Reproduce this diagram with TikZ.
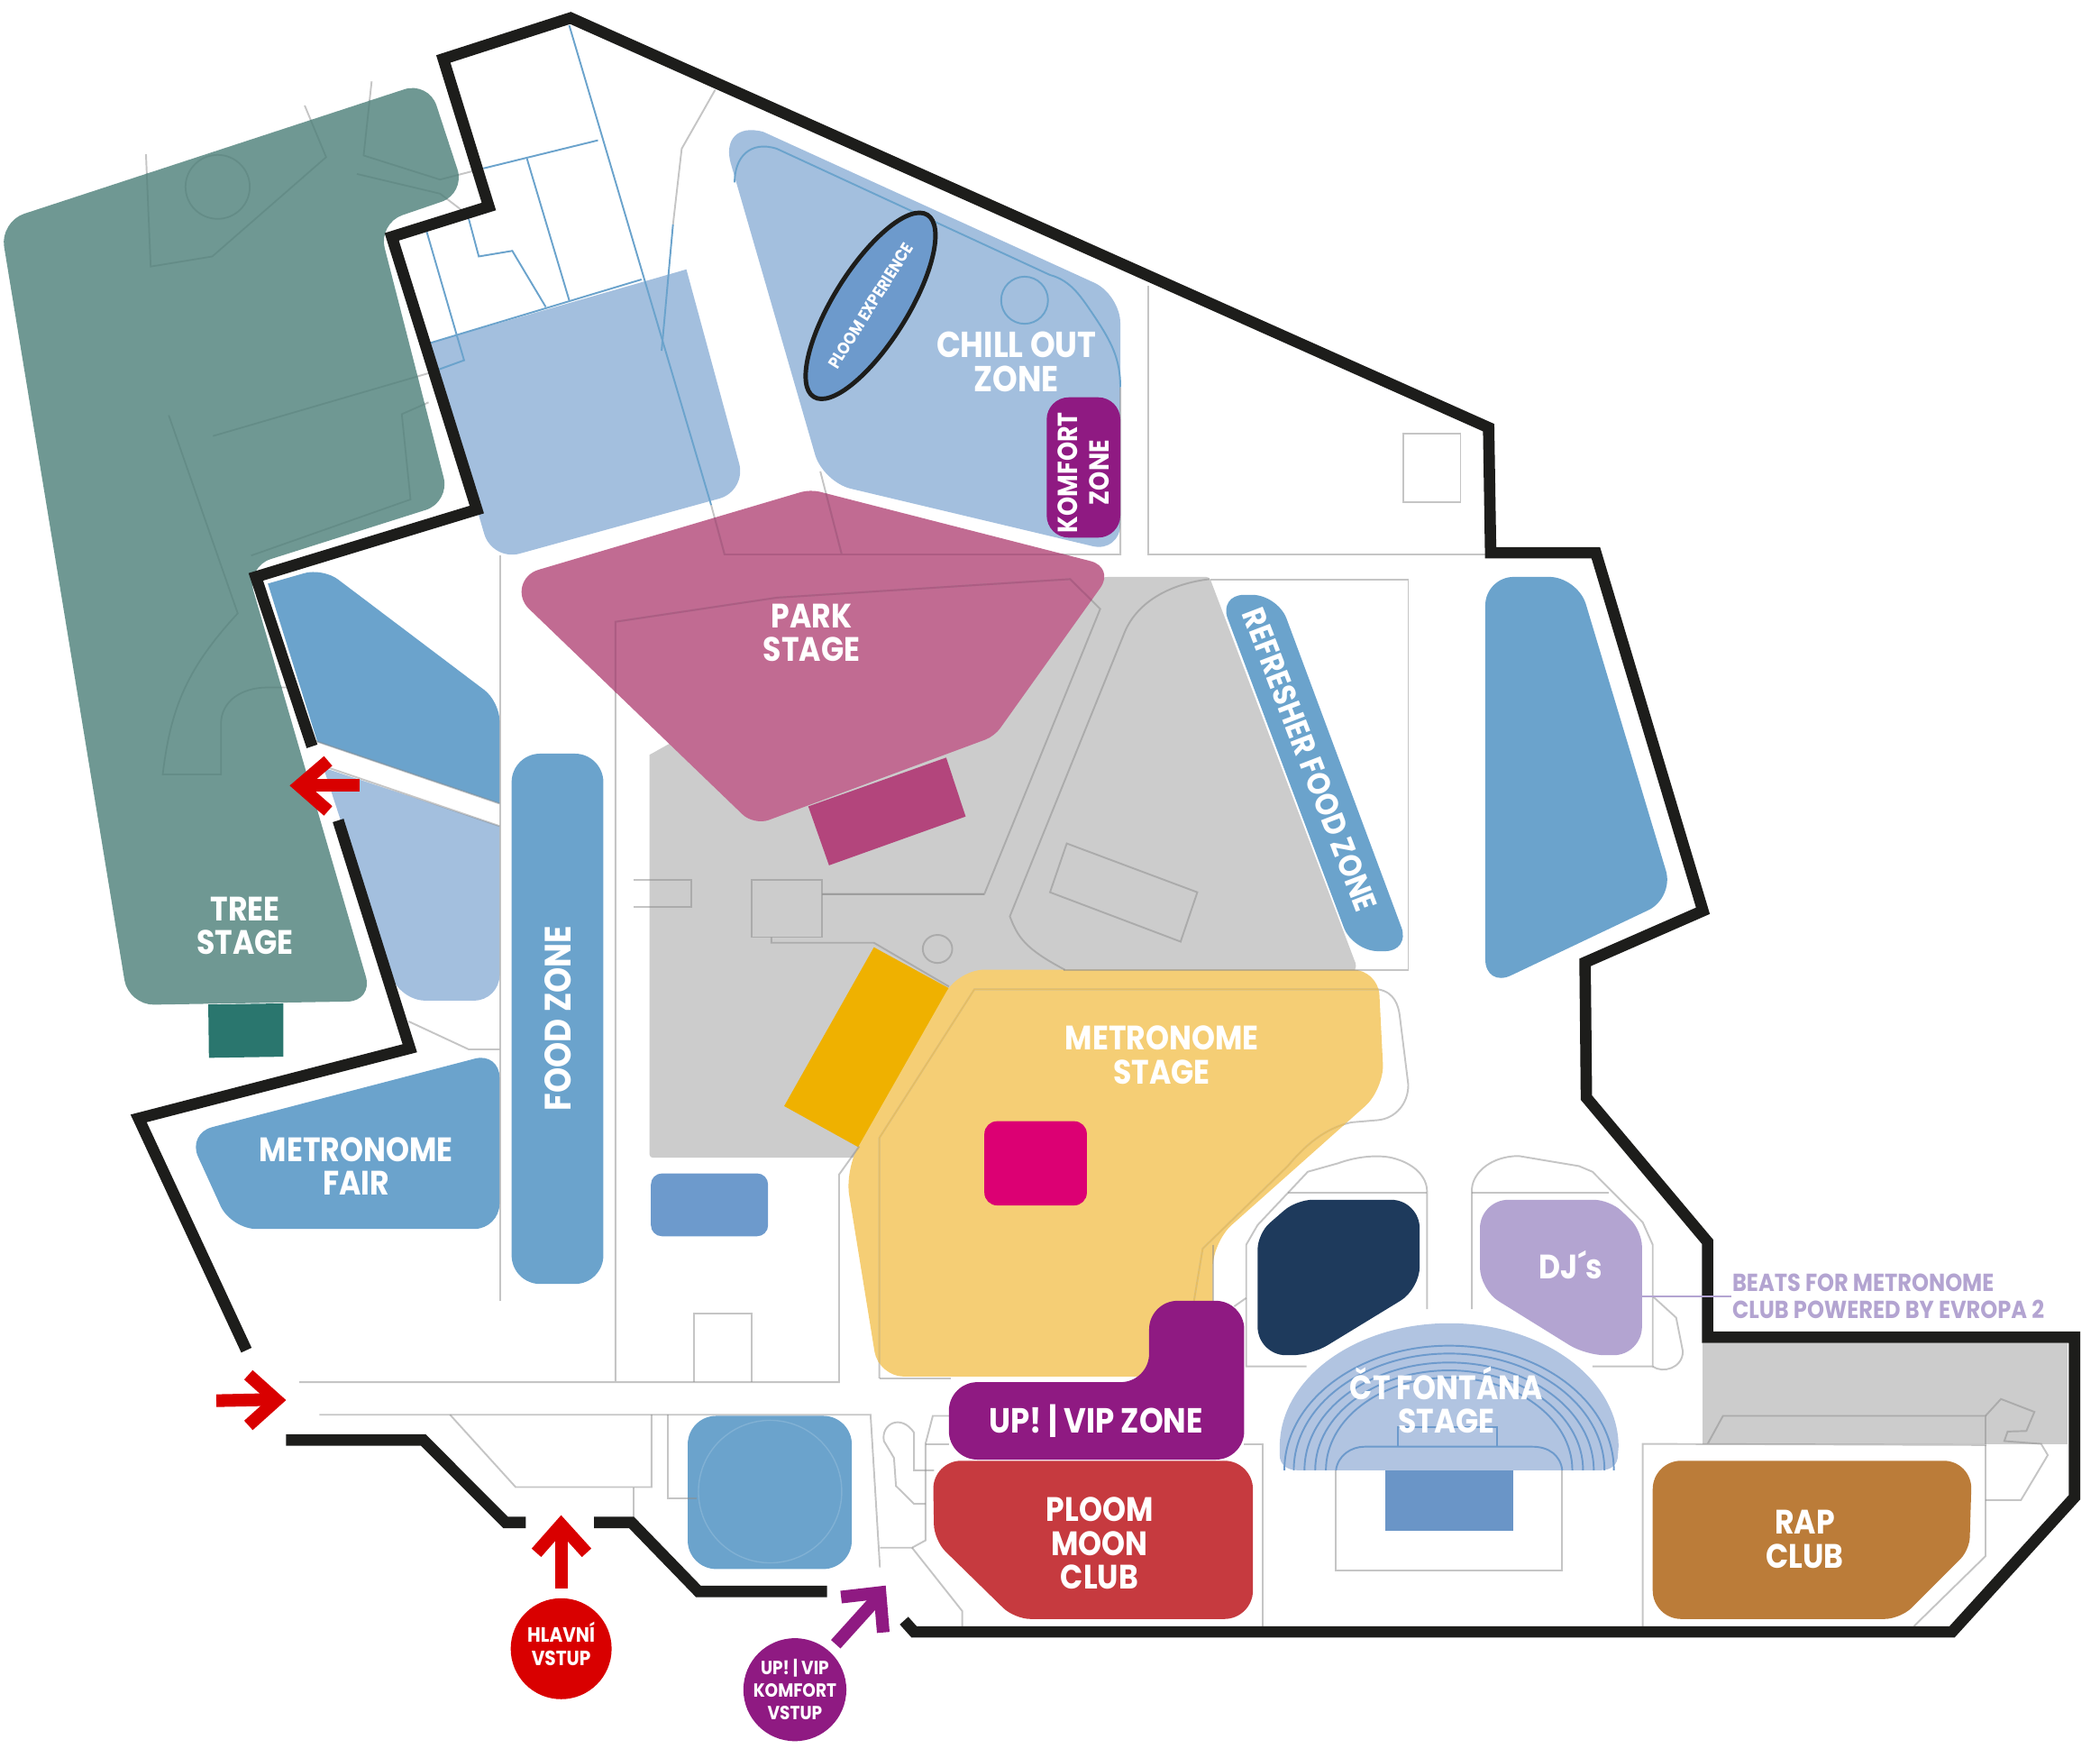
\documentclass[tikz,border=0pt]{standalone}
\usepackage{fontspec}
\usetikzlibrary{shapes.geometric}
\newfontfamily\labf[FakeStretch=0.88]{Poppins}
\definecolor{wall}{HTML}{1D1D1B}
\definecolor{teal1}{HTML}{6F9893}
\definecolor{teal2}{HTML}{2A766E}
\definecolor{teal3}{HTML}{648C87}
\definecolor{lblue}{HTML}{A3BFDE}
\definecolor{mblue}{HTML}{6BA3CC}
\definecolor{dblue}{HTML}{6D9ACC}
\definecolor{pink1}{HTML}{C16B92}
\definecolor{pink2}{HTML}{B3457C}
\definecolor{pink3}{HTML}{AD5C83}
\definecolor{grey1}{HTML}{CCCCCC}
\definecolor{grey2}{HTML}{C6C6C6}
\definecolor{grey3}{HTML}{8C8C8C}
\definecolor{orange1}{HTML}{EFB100}
\definecolor{yellow1}{HTML}{F5CE75}
\definecolor{yellow2}{HTML}{E6BE62}
\definecolor{magenta1}{HTML}{DC0073}
\definecolor{purple1}{HTML}{8F1A82}
\definecolor{red1}{HTML}{C63A3F}
\definecolor{red2}{HTML}{D90000}
\definecolor{navy1}{HTML}{1E3A5C}
\definecolor{lilac}{HTML}{B3A4D1}
\definecolor{font1}{HTML}{B1C4E1}
\definecolor{font2}{HTML}{6A95C7}
\definecolor{rap}{HTML}{BB7C39}
\newcommand{\treelines}[1]{%
\draw[#1] (218,275) -- (225,475) -- (317,457) -- (487,280) -- (455,188);
\draw[#1] (555,145) -- (543,277) -- (657,320) -- (722,300);
\draw[#1] (533,310) -- (657,345) -- (690,375);
\draw[#1] (325,333) ellipse [x radius=48,y radius=57];
\draw[#1] (318,777) -- (640,665);
\draw[#1] (640,717) -- (600,738) -- (613,890) -- (375,990);
\draw[#1] (252,740) -- (355,1093) .. controls (280,1190) and (255,1260) .. (243,1380) -- (330,1380) -- (330,1290) .. controls (330,1250) and (360,1225) .. (400,1225) -- (440,1225);
}
\newcommand{\yellowlines}[1]{%
\draw[#1] (1313,2456) -- (1313,2028) -- (1455,1763) -- (2058,1763);
\draw[#1] (2058,1763) .. controls (2083,1768) and (2088,1793) .. (2090,1808) -- (2103,1933) .. controls (2103,1968) and (2083,1993) .. (2058,1996) -- (2018,2000) .. controls (1988,2008) and (1958,2028) .. (1923,2078) -- (1796,2225) -- (1783,2318);
}
\newcommand{\pinklines}[1]{%
\draw[#1] (919,2461) -- (919,1108) -- (1160,1065) -- (1598,1032) -- (1643,1085) -- (1470,1593) -- (1228,1593);
\draw[#1] (1062,900) -- (1082,988) -- (1673,988) -- (1673,690);
\draw[#1] (1225,840) -- (1257,988);
\draw[#1] (1806,1032) .. controls (1750,1040) and (1700,1070) .. (1680,1125) -- (1530,1568);
}
\newcommand{\treeshape}{(0,395) -- (640,145) -- (695,345) -- (565,398) -- (672,895) -- (368,1010) -- (557,1784) -- (192,1791) -- cycle}
\newcommand{\yellowshape}{(1262,2085) -- (1432,1728) -- (2058,1728) -- (2067,1941) -- (1811,2213) -- (1811,2453) -- (1312,2453) -- cycle}
\newcommand{\pinkshape}{(805,1015) [rounded corners=3pt] -- (1210,872) [rounded corners=8pt] -- (1665,1011) [rounded corners=3pt] -- (1485,1312) [rounded corners=5pt] -- (1126,1471) [sharp corners] -- (790,1085) .. controls (770,1062) and (778,1024) .. (805,1015) -- cycle}
\tikzset{
  x=0.0074298cm,y=-0.0062242cm,
  wallline/.style={draw=wall,line width=3.6pt,miter limit=10},
  gl/.style={draw=grey3,draw opacity=0.5,line width=0.55pt},
  glsolid/.style={draw=grey2,line width=0.55pt},
  bl/.style={draw=mblue,line width=0.55pt},
  lab/.style={text=white,align=center,inner sep=0pt,font=\labf\bfseries\fontsize{10.7}{10.6}\selectfont},
  smalllab/.style={text=white,align=center,inner sep=0pt,font=\labf\bfseries\fontsize{6.5}{7.2}\selectfont},
  entry/.style={line width=4pt,miter limit=10},
}
\begin{document}
\begin{tikzpicture}
\useasboundingbox (0,0) rectangle (3136,3131.3);
% --- zones ---
\fill[grey1] (970,1345) [rounded corners=1pt] -- (1000,1325) -- (1650,1028) -- (1806,1028) -- (2026,1722) -- (2020,1735) -- (1500,1735) -- (1480,1800) -- (1280,2063) -- (970,2063) [sharp corners] -- cycle;
\treelines{glsolid}
\fill[teal1,rounded corners=8pt] \treeshape;
\begin{scope}
\clip[rounded corners=8pt] \treeshape;
\treelines{draw=teal3,line width=0.5pt}
\end{scope}
\fill[teal2] (311,1790) -- (423,1788) -- (423,1883) -- (312,1885) -- cycle;
\fill[lblue] (640,612) -- (1025,480) [rounded corners=9pt] -- (1115,875) -- (735,1000) [sharp corners] -- cycle;
\fill[lblue] (1091,290) .. controls (1082,250) and (1100,222) .. (1140,235) [rounded corners=9pt] -- (1673,525) -- (1673,985) -- (1229,859) [sharp corners] -- cycle;
\fill[mblue] (400,1040) [rounded corners=6pt] -- (482,1012) -- (746,1250) [sharp corners] -- (746,1432) -- (474,1322) -- cycle;
\fill[lblue] (483,1368) -- (746,1472) [rounded corners=8pt] -- (746,1783) -- (597,1783) [sharp corners] -- (500,1430) -- cycle;
\fill[mblue,rounded corners=9pt] (764,1343) rectangle (901,2288);
\fill[mblue,rounded corners=8pt] (280,2020) -- (746,1875) -- (746,2190) -- (345,2190) -- cycle;
\fill[mblue,rounded corners=8pt] (1820,1060) -- (1908,1060) -- (2106,1695) -- (2020,1695) -- cycle;
\fill[mblue,rounded corners=9pt] (2218,1028) -- (2356,1028) -- (2500,1600) -- (2218,1760) -- cycle;
\fill[pink2] (1207,1437) -- (1413,1350) -- (1442,1455) -- (1238,1542) -- cycle;
\fill[pink1] \pinkshape;
\fill[orange1] (1305,1688) -- (1417,1761) -- (1283,2045) -- (1171,1971) -- cycle;
\fill[yellow1,rounded corners=8pt] \yellowshape;
\fill[magenta1,rounded corners=4pt] (1470,1998) rectangle (1623,2148);
\fill[dblue,rounded corners=3.5pt] (972,2091) rectangle (1147,2203);
\fill[red1] (1600,2603) [rounded corners=9pt] -- (1871,2603) -- (1871,2885) [rounded corners=5pt] -- (1515,2885) -- (1395,2745) [rounded corners=9pt] -- (1393,2603) [sharp corners] -- cycle;
\fill[navy1] (2000,2138) [rounded corners=9pt] -- (2120,2138) [rounded corners=7pt] -- (2120,2297) [rounded corners=6pt] -- (1958,2415) [rounded corners=9pt] -- (1878,2415) [rounded corners=5pt] -- (1878,2198) -- (1936,2138) [sharp corners] -- cycle;
\fill[lilac] (2300,2138) [rounded corners=5pt] -- (2404,2138) -- (2452,2193) [rounded corners=9pt] -- (2452,2415) [rounded corners=6pt] -- (2368,2415) [rounded corners=7pt] -- (2210,2298) [rounded corners=9pt] -- (2210,2138) [sharp corners] -- cycle;
\fill[mblue,rounded corners=9pt] (1027,2523) rectangle (1272,2796);
\fill[rap] (2700,2603) [rounded corners=9pt] -- (2945,2603) [rounded corners=4pt] -- (2941,2762) [rounded corners=5pt] -- (2838,2885) [rounded corners=9pt] -- (2468,2885) -- (2468,2603) [sharp corners] -- cycle;
\fill[grey1] (2543,2393) rectangle (3088,2573);
\begin{scope}[shift={(1568,1568)}]
\fill[font1] (343,1010) arc[start angle=180,end angle=360,x radius=253,y radius=220] -- (848,1025) .. controls (848,1042) and (838,1052) .. (822,1052) -- (370,1052) .. controls (354,1052) and (343,1042) .. (343,1025) -- cycle;
\fill[font2] (500,1052) rectangle (692,1160);
\foreach \w/\h in {246/222,232/208,216/192,200/178,184/165}
  \draw[draw=dblue,line width=0.55pt] (596-\w,1052) arc[start angle=180,end angle=360,x radius=\w,y radius=\h];
\draw[draw=dblue,line width=0.55pt] (520,1010) -- (520,975) -- (668,975) -- (668,1010);
\draw[draw=dblue,line width=0.55pt] (427,1052) .. controls (430,1025) and (450,1010) .. (470,1010) -- (720,1010) .. controls (745,1010) and (762,1025) .. (765,1052);
\end{scope}
% --- plan lines ---
\draw[gl] (747,990) -- (747,2318);
\pinklines{gl}
\begin{scope}
\clip \pinkshape;
\pinklines{draw=pink3,line width=0.55pt}
\end{scope}
\draw[gl] (1470,1593) -- (1228,1593);
\draw[gl] (1068,160) -- (1018,265) -- (1005,400);
\draw[gl] (1715,510) -- (1715,988) -- (2218,988);
\draw[gl] (2095,772) rectangle (2181,895);
\draw[gl] (1808,1033) -- (2103,1033) -- (2103,1728) -- (1588,1728);
\draw[gl] (1530,1568) -- (1508,1633) .. controls (1520,1670) and (1530,1690) .. (1590,1728);
\draw[gl] (1593,1503) -- (1788,1590) -- (1763,1678) -- (1568,1590) -- cycle;
\draw[gl] (470,1320) -- (746,1432);
\draw[gl] (483,1365) -- (746,1472);
\yellowlines{glsolid}
\begin{scope}
\clip[rounded corners=8pt] \yellowshape;
\yellowlines{draw=yellow2,line width=0.55pt}
\end{scope}
\begin{scope}[shift={(0,1568)}]
\draw[gl] (946,0) -- (1032,0) -- (1032,48) -- (946,48);
\draw[gl] (1122,0) rectangle (1228,102);
\draw[gl] (1152,102) -- (1152,112) -- (1305,112) -- (1417,190);
\draw[gl] (1400,123) ellipse [x radius=22,y radius=25];
\draw[gl] (610,252) -- (700,302) -- (746,302);
\draw[gl] (447,895) -- (1253,895) -- (1253,525) -- (1283,475);
\draw[gl] (1036,895) -- (1036,772) -- (1123,772) -- (1123,895);
\draw[gl] (477,953) -- (1300,953) -- (1314,1225);
\draw[gl] (672,953) -- (770,1082) -- (973,1082) -- (973,953);
\draw[gl] (997,953) -- (997,1102) -- (1040,1102);
\draw[gl] (946,1082) -- (946,1140);
\draw[gl] (1313,888) -- (1420,888);
\draw[gl] (1417,955) -- (1393,955) -- (1382,1005) -- (1382,1177) -- (1362,1190) -- (1314,1190);
\draw[gl] (1362,1190) -- (1437,1303) -- (1437,1333);
\draw[gl] (1382,1112) -- (1365,1112) -- (1338,1080) -- (1335,1030) -- (1320,1000) .. controls (1315,970) and (1345,950) .. (1365,985) -- (1365,1052) -- (1395,1052);
\draw[gl] (1382,1005) -- (1417,1005);
\end{scope}
\begin{scope}[shift={(1568,1568)}]
\draw[gl] (243,650) -- (243,750);
\draw[gl] (383,867) -- (293,867) -- (293,650) -- (310,615) -- (385,520) -- (430,505) .. controls (460,492) and (490,490) .. (510,495) .. controls (545,505) and (563,530) .. (563,555) -- (563,765);
\draw[gl] (355,557) -- (563,557);
\draw[gl] (293,745) -- (275,760);
\draw[gl] (630,765) -- (630,550) .. controls (632,520) and (660,492) .. (700,492) -- (790,510) -- (810,520) -- (885,610) -- (900,650) -- (900,867) -- (810,867);
\draw[gl] (630,557) -- (835,557);
\draw[gl] (900,742) -- (935,780) -- (945,840) .. controls (945,870) and (915,880) .. (900,867);
\draw[gl] (290,1005) -- (318,1005) -- (318,1330);
\draw[gl] (427,1052) -- (427,1230) -- (765,1230) -- (765,1052);
\draw[gl] (885,1330) -- (885,1005) -- (1397,1007) -- (1397,955) -- (1005,955) -- (982,1005);
\draw[gl] (1397,1007) -- (1397,1205) -- (1290,1330);
\draw[gl] (1397,955) -- (1420,925) -- (1470,948) -- (1458,982) -- (1430,983) -- (1425,1000) -- (1480,1005) -- (1490,1025) -- (1450,1105) -- (1397,1105);
\end{scope}
\fill[purple1,rounded corners=9pt] (1417,2463) -- (1716,2463) -- (1716,2318) -- (1858,2318) -- (1858,2601) -- (1417,2601) -- cycle;
% blue plan lines
\draw[bl] (850,45) -- (1062,900);
\draw[bl] (1005,400) -- (988,625);
\draw[bl] (722,300) -- (893,250);
\draw[bl] (787,283) -- (850,535);
\draw[bl] (700,390) -- (715,457) -- (765,447) -- (815,547);
\draw[bl] (637,412) -- (693,642) -- (640,665);
\draw[bl] (640,612) -- (958,498);
\draw[bl] (1097,325) .. controls (1097,280) and (1120,250) .. (1160,265) -- (1568,490) .. controls (1600,500) and (1615,530) .. (1635,565) .. controls (1660,610) and (1673,640) .. (1673,690);
\draw[bl] (1530,535) ellipse [x radius=35,y radius=42];
\draw[bl] (458,1250) -- (542,1225) -- (580,1360);
\draw[draw=mblue!85!white,line width=0.4pt] (1150,2658) ellipse [x radius=107,y radius=127];
% --- walls ---
\draw[wallline] (466,1330) -- (382,1028) -- (712,908) -- (585,422) -- (730,368) -- (662,105) -- (852,32) -- (2223,762) -- (2226,985) -- (2383,985) -- (2543,1623) -- (2367,1715) -- (2369,1956) -- (2550,2213) -- (2550,2383) -- (3098,2383) -- (3098,2668) -- (2915,2908) -- (1365,2908) -- (1350,2888);
\draw[wallline] (505,1462) -- (612,1868) -- (207,1993) -- (368,2406);
\draw[wallline] (427,2566) -- (632,2566) -- (755,2713) -- (785,2713);
\draw[wallline] (887,2713) -- (943,2713) -- (1043,2836) -- (1235,2836);
% --- entrance arrows ---
\coordinate (leftA) at (537,1400);
\coordinate (leftB) at (456,1400);
\coordinate (rightA) at (323,2496);
\coordinate (rightB) at (404,2494);
\coordinate (upA) at (838,2830);
\coordinate (upB) at (838,2728);
\coordinate (vipA) at (1248,2930);
\coordinate (vipB) at (1310,2848);
\draw[entry,draw=red2] (leftA) -- (leftB);
\draw[entry,draw=red2] (490,1356) -- (447,1400) -- (490,1445);
\draw[entry,draw=red2] (rightA) -- (rightB);
\draw[entry,draw=red2] (371,2450) -- (413,2495) -- (371,2540);
\draw[entry,draw=red2] (upA) -- (upB);
\draw[entry,draw=red2] (801,2767) -- (838,2717) -- (876,2767);
\draw[entry,draw=purple1] (vipA) -- (vipB);
\draw[entry,draw=purple1] (1256,2846) -- (1314,2838) -- (1319,2909);
% --- entrance badges ---
\node[circle,fill=red2,minimum size=1.12cm,inner sep=0pt,label={[smalllab,yshift=1.5pt]center:{HLAVNÍ\\VSTUP}}] (hlavni) at (838,2938) {};
\node[circle,fill=purple1,minimum size=1.12cm,inner sep=0pt,smalllab,font=\labf\bfseries\fontsize{6.0}{7.1}\selectfont] (vip) at (1187,3011) {UP! | VIP\\KOMFORT\\VSTUP};
% --- ploom ellipse ---
\node[ellipse,draw=wall,line width=1.4pt,fill=dblue,minimum width=2.38cm,minimum height=.82cm,inner sep=0pt,rotate=58,text=white,font=\labf\bfseries\fontsize{5.3}{6}\selectfont] (ploomexp) at (1300,545) {PLOOM EXPERIENCE};
% --- labels ---
\node[lab] (tree) at (366,1650) {TREE\\STAGE};
\node[lab,font=\labf\bfseries\fontsize{11.4}{10.6}\selectfont] (chill) at (1518,645) {CHILL OUT\\ZONE};
\fill[purple1,rounded corners=7pt] (1563,708) rectangle (1673,958);
\node[lab,rotate=90,font=\labf\bfseries\fontsize{8.7}{10.2}\selectfont] (komfort) at (1618,842) {KOMFORT\\ZONE};
\node[lab] (park) at (1212,1128) {PARK\\STAGE};
\node[lab,rotate=-69,font=\labf\bfseries\fontsize{10.1}{10}\selectfont] (refresh) at (1956,1354) {REFRESHER FOOD ZONE};
\node[lab,rotate=90,font=\labf\bfseries\fontsize{11.6}{12}\selectfont] (food) at (833,1815) {FOOD ZONE};
\node[lab] (fair) at (532,2078) {METRONOME\\FAIR};
\node[lab] (metro) at (1735,1880) {METRONOME\\STAGE};
\node[lab,font=\labf\bfseries\fontsize{11}{12}\selectfont] (vipzone) at (1637,2533) {UP! | VIP ZONE};
\node[lab] (moon) at (1642,2750) {PLOOM\\MOON\\CLUB};
\node[lab] (djs) at (2346,2254) {DJ´s};
\node[lab] (fontana) at (2160,2495) {ČT FONTÁNA\\STAGE};
\node[lab] (rapclub) at (2695,2743) {RAP\\CLUB};
\node[text=lilac,align=left,inner sep=0pt,font=\labf\bfseries\fontsize{7.8}{8.65}\selectfont,anchor=west] (beats) at (2586,2310) {BEATS FOR METRONOME\\CLUB POWERED BY EVROPA 2};
\coordinate (djedge) at (2452,2310);
\draw[draw=lilac,line width=0.55pt] (djedge) -- (beats.west);
\end{tikzpicture}
\end{document}
